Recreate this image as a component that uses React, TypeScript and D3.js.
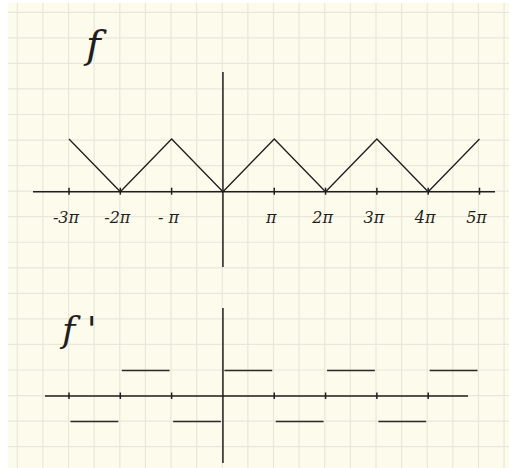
import React from "react";
import * as d3 from "d3";

// tick positions in units of π
const topTicks = [-3, -2, -1, 1, 2, 3, 4, 5];
const topTickLabels = ["-3π", "-2π", "- π", "π", "2π", "3π", "4π", "5π"];
const bottomTicks = [-3, -2, -1, 1, 2, 3, 4];

// f(x): triangle wave (x in units of π, y in units of π)
const fX = [-3, -2, -1, 0, 1, 2, 3, 4, 5];
const fY = [1, 0, 1, 0, 1, 0, 1, 0, 1];

// f'(x): piecewise constant ±1
const dStart = [-3, -2, -1, 0, 1, 2, 3, 4];
const dEnd = [-2, -1, 0, 1, 2, 3, 4, 5];
const dValue = [-1, 1, -1, 1, -1, 1, -1, 1];

const W = 509;
const H = 468;

export default function App() {
  const x = d3.scaleLinear().domain([-3, 5]).range([69, 479.5]);
  const yTop = d3.scaleLinear().domain([0, 1]).range([191.7, 139]);
  const yBot = d3.scaleLinear().domain([-1, 1]).range([421.5, 370.5]);

  const line = d3
    .line<number>()
    .x((_, i) => x(fX[i]))
    .y((d) => yTop(d));

  const gridX = d3.range(17.3, W, 25.62);
  const gridY = d3.range(12.3, H, 25.55);
  const ink = "#1e1e1e";
  const grid = "#e9e7da";

  return (
    <svg
      width={W}
      height={H}
      style={{ position: "absolute", left: 0, top: 0 }}
      xmlns="http://www.w3.org/2000/svg"
    >
      <rect x={0} y={0} width={W} height={H} fill="#ffffff" />
      <rect x={8} y={3} width={W - 8} height={H - 3} fill="#fdfbec" />
      <g stroke={grid} strokeWidth={1.2}>
        {gridX.map((gx, i) => (
          <line key={"gx" + i} x1={gx} x2={gx} y1={3} y2={H} />
        ))}
        {gridY.map((gy, i) => (
          <line key={"gy" + i} x1={8} x2={W} y1={gy} y2={gy} />
        ))}
      </g>

      {/* top panel: f */}
      <text
        x={86}
        y={58}
        fontFamily="'DejaVu Serif', serif"
        fontStyle="italic"
        fontSize={40}
        fill={ink}
      >
        f
      </text>
      <g stroke={ink} strokeWidth={1.5} fill="none">
        <line x1={33} x2={495} y1={yTop(0)} y2={yTop(0)} />
        <line x1={x(0)} x2={x(0)} y1={72} y2={267} />
        {topTicks.map((t) => (
          <line key={"tt" + t} x1={x(t)} x2={x(t)} y1={yTop(0) - 4} y2={yTop(0) + 3} />
        ))}
      </g>
      <path d={line(fY) || ""} stroke={ink} strokeWidth={1.3} fill="none" />
      <g
        fontFamily="'DejaVu Serif', serif"
        fontStyle="italic"
        fontSize={16}
        fill={ink}
        textAnchor="middle"
      >
        {topTicks.map((t, i) => (
          <text key={"tl" + t} x={x(t) - 3} y={223}>
            {topTickLabels[i]}
          </text>
        ))}
      </g>

      {/* bottom panel: f' */}
      <text
        x={62}
        y={342}
        fontFamily="'DejaVu Serif', serif"
        fontStyle="italic"
        fontSize={36}
        fill={ink}
      >
        f '
      </text>
      <g stroke={ink} strokeWidth={1.5} fill="none">
        <line x1={45} x2={468} y1={yBot(0)} y2={yBot(0)} />
        <line x1={x(0)} x2={x(0)} y1={308} y2={463} />
        {bottomTicks.map((t) => (
          <line key={"bt" + t} x1={x(t)} x2={x(t)} y1={yBot(0) - 3.5} y2={yBot(0) + 3} />
        ))}
      </g>
      <g stroke="#2a2a2a" strokeWidth={1.4}>
        {dStart.map((s, i) => (
          <line
            key={"d" + i}
            x1={x(s) + 1.5}
            x2={x(dEnd[i]) - 2}
            y1={yBot(dValue[i])}
            y2={yBot(dValue[i])}
          />
        ))}
      </g>
    </svg>
  );
}
